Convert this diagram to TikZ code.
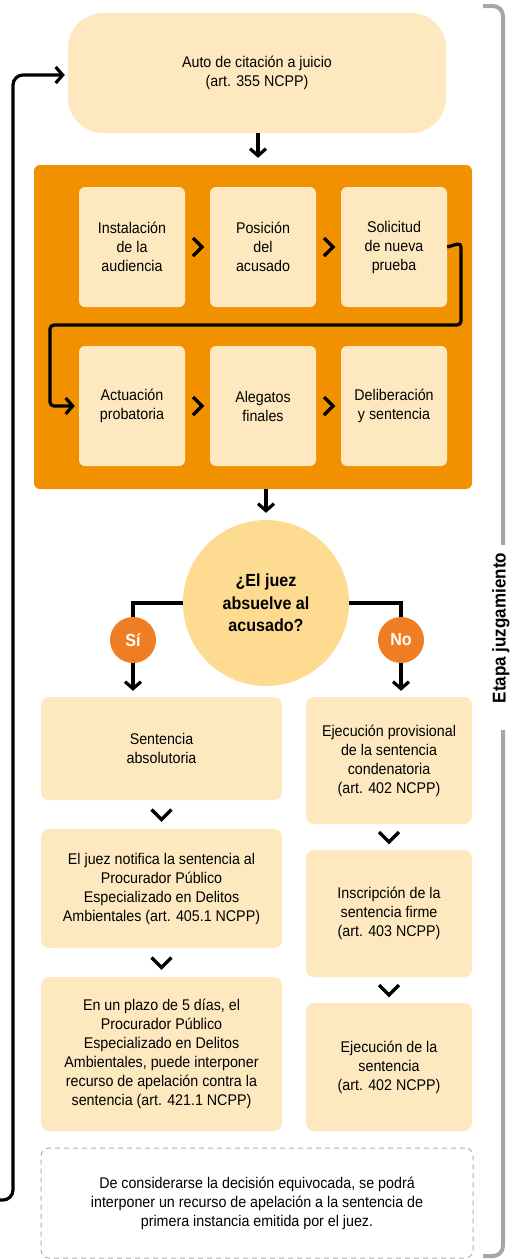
\documentclass[tikz,border=0pt]{standalone}
\usepackage{fontspec}
\setmainfont[FakeStretch=0.92]{Liberation Sans}
\usetikzlibrary{arrows.meta,calc}
\definecolor{peach}{HTML}{FEE8BF}
\definecolor{circ}{HTML}{FDDC92}
\definecolor{orng}{HTML}{F29100}
\definecolor{dot}{HTML}{EE7D24}
\definecolor{brk}{HTML}{A6A6A6}
\definecolor{dash}{HTML}{B0B0B0}
\begin{document}
\begin{tikzpicture}[x=1pt,y=-1pt,
  txt/.style={font=\fontsize{15.5}{19}\selectfont, align=center, text=black},
  box/.style={txt, fill=peach, rounded corners=8pt, inner sep=0pt},
  conn/.style={line width=3.2pt, draw=black},
  arr/.style={conn, -{Straight Barb[length=7pt,width=16pt]}},
  chevdown/.pic={\draw[line width=3.4pt] (-10,-5) -- (0,5) -- (10,-5);},
  chevright/.pic={\draw[line width=3.4pt] (-4.5,-9) -- (4.5,0) -- (-4.5,9);}
]
\useasboundingbox (0,0) rectangle (519,1259);

% top box
\node[box, rounded corners=35pt, minimum width=378pt, minimum height=120pt] (top) at (257,73) {Auto de citación a juicio\\(art. 355 NCPP)};

% orange panel
\node[fill=orng, rounded corners=6pt, minimum width=438pt, minimum height=324pt, inner sep=0pt] (panel) at (253,327) {};

\foreach \n/\x/\y/\t in {b1/132/247/{Instalación\\de la\\audiencia}, b2/263/247/{Posición\\del\\acusado}, b3/394/247/{Solicitud\\de nueva\\prueba}, b4/132/406/{Actuación\\probatoria}, b5/263/406/{Alegatos\\finales}, b6/394/406/{Deliberación\\y sentencia}}
  \node[box, rounded corners=6pt, minimum width=106pt, minimum height=120pt] (\n) at (\x,\y) {\t};

\pic at (197.5,247) {chevright};
\pic at (328.5,247) {chevright};
\pic at (197.5,406) {chevright};
\pic at (328.5,406) {chevright};

\draw[arr, rounded corners=4pt, shorten >=4pt] (b3.east) -- (461,243) -- (461,325) -- (50,325) -- (50,406) -- (b4.west);

% decision
\node[circle, fill=circ, minimum size=166pt, inner sep=0pt, font=\bfseries\fontsize{17.5}{22.5}\selectfont, align=center] (dec) at (266,603) {¿El juez\\absuelve al\\acusado?};
\node[circle, fill=dot, minimum size=46pt, inner sep=0pt, text=white, font=\bfseries\fontsize{17.5}{20}\selectfont] (si) at (133,640) {Sí};
\node[circle, fill=dot, minimum size=46pt, inner sep=0pt, text=white, font=\bfseries\fontsize{17.5}{20}\selectfont] (no) at (401,640) {No};

\coordinate (ta) at (258,133);
\draw[arr, shorten >=7pt] (ta) -- (ta |- panel.north);
\draw[arr, shorten >=7pt] (panel.south -| dec.north) -- (dec.north);
\draw[conn] (dec.west) -| (si.north);
\draw[conn] (dec.east) -| (no.north);

% left column
\node[box, minimum width=241pt, minimum height=103pt] (l1) at (161.5,748.5) {Sentencia\\absolutoria};
\node[box, minimum width=241pt, minimum height=119pt] (l2) at (161.5,888.5) {El juez notifica la sentencia al\\Procurador Público\\Especializado en Delitos\\Ambientales (art. 405.1 NCPP)};
\node[box, minimum width=241pt, minimum height=154pt] (l3) at (161.5,1054) {En un plazo de 5 días, el\\Procurador Público\\Especializado en Delitos\\Ambientales, puede interponer\\recurso de apelación contra la\\sentencia (art. 421.1 NCPP)};

% right column
\node[box, minimum width=166pt, minimum height=127pt] (r1) at (389,760.5) {Ejecución provisional\\de la sentencia\\condenatoria\\(art. 402 NCPP)};
\node[box, minimum width=166pt, minimum height=127pt] (r2) at (389,913.5) {Inscripción de la\\sentencia firme\\(art. 403 NCPP)};
\node[box, minimum width=166pt, minimum height=128pt] (r3) at (389,1067) {Ejecución de la\\sentencia\\(art. 402 NCPP)};

\draw[arr, shorten >=6pt] (si.south) -- (l1.north -| si.south);
\draw[arr, shorten >=6pt] (no.south) -- (r1.north -| no.south);

\pic at ($(l1.south)!0.5!(l2.north)$) {chevdown};
\pic at ($(l2.south)!0.5!(l3.north)$) {chevdown};
\pic at ($(r1.south)!0.5!(r2.north)$) {chevdown};
\pic at ($(r2.south)!0.5!(r3.north)$) {chevdown};

% dashed note
\node[txt, draw=dash, dashed, dash pattern=on 5pt off 4pt, line width=1pt, rounded corners=8pt, minimum width=432pt, minimum height=110pt, inner sep=0pt] (note) at (257,1203) {De considerarse la decisión equivocada, se podrá\\interponer un recurso de apelación a la sentencia de\\primera instancia emitida por el juez.};

% loop back
\coordinate (loopstart) at (-3,1200);
\draw[arr, rounded corners=10pt, shorten >=3pt] (loopstart) -- (13,1200) -- (13,75) -- (top.west |- 0,75);

% bracket
\node[rotate=90, font=\bfseries\fontsize{18.5}{20}\selectfont] (etapa) at (501,628) {Etapa juzgamiento};
\draw[brk, line width=4pt, rounded corners=10pt] (483,6) -- (503,6) -- (503,545);
\draw[brk, line width=4pt, rounded corners=10pt] (503,730) -- (503,1256) -- (483,1256);
\end{tikzpicture}
\end{document}
